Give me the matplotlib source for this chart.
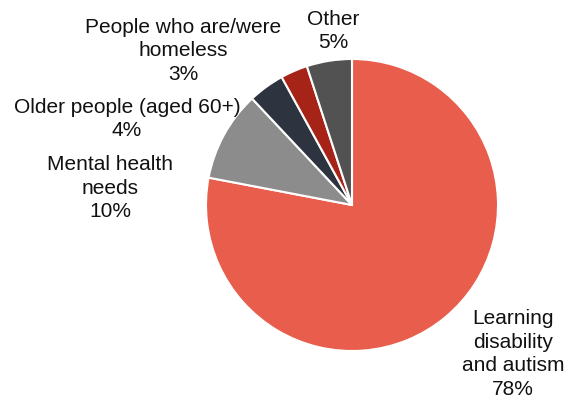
import matplotlib
matplotlib.use('Agg')
import matplotlib.pyplot as plt

# shares by group (%)
labels = ['Learning\ndisability\nand autism', 'Mental health\nneeds',
          'Older people (aged 60+)', 'People who are/were\nhomeless', 'Other']
values = [78, 10, 4, 3, 5]
colors = ['#E85D4C', '#8C8C8C', '#2E343F', '#A52317', '#525252']

# label centres in pixel coords (x, y from top)
label_pos = [(513, 354), (110, 188), (127, 119), (183, 51), (333, 31)]

W, H = 565, 399
fig = plt.figure(figsize=(W / 100, H / 100), dpi=100)
ax = fig.add_axes([0, 0, 1, 1])

ax.pie(values, colors=colors, startangle=90, counterclock=False,
       center=(352, H - 205), radius=146, frame=True,
       wedgeprops=dict(edgecolor='white', linewidth=1.5))
ax.set_xlim(0, W)
ax.set_ylim(0, H)
ax.set_aspect('equal')
ax.axis('off')

for lab, v, (x, y) in zip(labels, values, label_pos):
    ax.text(x, H - y, f'{lab}\n{v}%', ha='center', va='center',
            fontsize=15, family='Liberation Sans', color='#111111',
            linespacing=1.32)

fig.savefig('out.png', dpi=100)
